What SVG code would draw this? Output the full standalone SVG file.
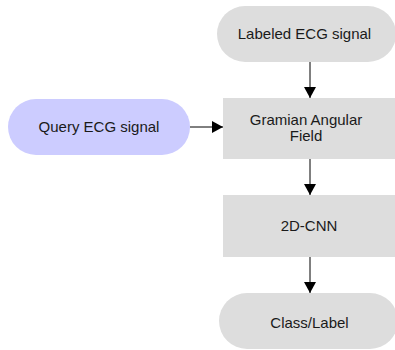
<svg xmlns="http://www.w3.org/2000/svg" width="395" height="350" viewBox="0 0 395 350">
<defs>
<style>
.n{fill:#dddddd;stroke:none}
.q{fill:#ccccff;stroke:none}
.t{font-family:"Liberation Sans",Arial,sans-serif;font-size:15px;fill:#1a1a1a;text-anchor:middle}
.c{stroke:#000;stroke-width:1;fill:none}
</style>
<marker id="ah" markerWidth="12" markerHeight="12" viewBox="0 0 11 12" refX="11" refY="6" orient="auto" markerUnits="userSpaceOnUse">
<path d="M0,0 L11,6 L0,12 Z" fill="#000"/>
</marker>
</defs>
<rect width="395" height="350" fill="#fff"/>
<g id="labeled">
<rect class="n" x="217" y="6" width="179" height="56" rx="28"/>
<text class="t" x="304.5" y="39">Labeled ECG signal</text>
</g>
<g id="query">
<rect class="q" x="8" y="99" width="182" height="56" rx="28"/>
<text class="t" x="99" y="132">Query ECG signal</text>
</g>
<g id="gaf">
<rect class="n" x="223" y="98" width="175" height="61"/>
<text class="t" x="306" y="125">Gramian Angular</text>
<text class="t" x="306" y="141">Field</text>
</g>
<g id="cnn">
<rect class="n" x="223" y="195" width="175" height="62"/>
<text class="t" x="309" y="231">2D-CNN</text>
</g>
<g id="class">
<rect class="n" x="219" y="293" width="179" height="56" rx="28"/>
<text class="t" x="309.5" y="328">Class/Label</text>
</g>
<g id="connectors">
<path class="c" d="M310,62 L310,98" marker-end="url(#ah)"/>
<path class="c" d="M190,127 L223,127" marker-end="url(#ah)"/>
<path class="c" d="M310,159 L310,195" marker-end="url(#ah)"/>
<path class="c" d="M310,257 L310,293" marker-end="url(#ah)"/>
</g>
</svg>
